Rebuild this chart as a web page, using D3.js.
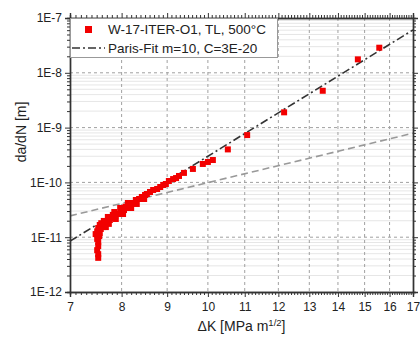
<!DOCTYPE html>
<html>
<head>
<meta charset="utf-8">
<script src="https://cdn.jsdelivr.net/npm/d3@7"></script>
<style>
  body { margin: 0; background: #fff; }
  svg { font-family: "Liberation Sans", Arial, sans-serif; }
  .axis path, .axis line { stroke: #333; }
  .axis text { fill: #222; }
</style>
</head>
<body>
<svg id="chart" width="420" height="338"></svg>
<script>
// measured crack growth rate, W-17-ITER-O1, TL, 500°C
var deltaK = [7.53, 7.53, 7.51, 7.53, 7.53, 7.51, 7.55, 7.48, 7.56, 7.51,
  7.58, 7.53, 7.62, 7.56, 7.66, 7.70, 7.64, 7.76, 7.80, 7.72,
  7.87, 7.93, 7.85, 7.99, 8.05, 7.97, 8.11, 8.17, 8.13, 8.24,
  8.30, 8.37, 8.43, 8.50, 8.54, 8.61, 8.68, 8.77, 8.84, 8.91,
  8.97, 9.04, 9.14, 9.21, 9.28, 9.40, 9.62, 9.87, 10.00, 10.13,
  7.68, 7.88, 8.03, 8.20, 8.32, 8.48, 7.59, 7.74, 7.82, 8.08,
  10.53, 11.07, 12.18, 13.46, 14.74, 15.58]
var rate = [4.2e-12, 4.9e-12, 5.8e-12, 6.9e-12, 8.2e-12, 9.3e-12, 1.05e-11, 1.14e-11, 1.19e-11, 1.28e-11,
  1.41e-11, 1.47e-11, 1.53e-11, 1.67e-11, 1.74e-11, 1.90e-11, 1.98e-11, 2.06e-11, 2.24e-11, 2.34e-11,
  2.44e-11, 2.65e-11, 2.88e-11, 2.88e-11, 3.13e-11, 3.41e-11, 3.41e-11, 3.87e-11, 4.21e-11, 4.21e-11,
  4.77e-11, 4.98e-11, 5.42e-11, 5.89e-11, 6.14e-11, 6.68e-11, 7.27e-11, 7.58e-11, 8.24e-11, 8.97e-11,
  9.35e-11, 1.06e-10, 1.15e-10, 1.20e-10, 1.31e-10, 1.49e-10, 1.76e-10, 2.17e-10, 2.36e-10, 2.56e-10,
  1.53e-11, 2.15e-11, 2.65e-11, 3.41e-11, 4.04e-11, 4.98e-11, 1.80e-11, 1.75e-11, 2.55e-11, 3.60e-11,
  4.0e-10, 7.3e-10, 1.9e-9, 4.7e-9, 1.76e-8, 2.87e-8]

// Paris fit line (m=10, C=3E-20) end points, and the grey reference line
var parisK = [7, 17]
var parisRate = [8.47e-12, 6.05e-8]
var refK = [7, 17]
var refRate = [2.45e-11, 7.9e-10]

var xTicks = [7, 8, 9, 10, 11, 12, 13, 14, 15, 16, 17]
var yTicks = [1e-12, 1e-11, 1e-10, 1e-9, 1e-8, 1e-7]
var yTickLabels = ["1E-12", "1E-11", "1E-10", "1E-9", "1E-8", "1E-7"]

var legendLabels = ["W-17-ITER-O1, TL, 500°C", "Paris-Fit m=10, C=3E-20"]

var margin = { left: 70, right: 7, top: 18, bottom: 46 }
var width = 420 - margin.left - margin.right
var height = 338 - margin.top - margin.bottom

var svg = d3.select("#chart")
var g = svg.append("g").attr("transform", "translate(" + margin.left + "," + margin.top + ")")

var x = d3.scaleLog().domain([7, 17]).range([0, width])
var y = d3.scaleLog().domain([1e-12, 1e-7]).range([height, 0])

// minor values
var xMinor = d3.range(70, 171).map(function (d) { return d / 10 }).filter(function (d) { return xTicks.indexOf(d) < 0 })
var yMinor = []
yTicks.slice(0, -1).forEach(function (t) {
  for (var i = 2; i <= 9; i++) yMinor.push(t * i)
})

// minor horizontal grid
g.append("g").selectAll("line").data(yMinor).enter().append("line")
  .attr("x1", 0).attr("x2", width)
  .attr("y1", function (d) { return y(d) }).attr("y2", function (d) { return y(d) })
  .attr("stroke", "#e0e0e0").attr("stroke-width", 0.8)

// major grid
g.append("g").selectAll("line").data(yTicks.slice(1, -1)).enter().append("line")
  .attr("x1", 0).attr("x2", width)
  .attr("y1", function (d) { return y(d) }).attr("y2", function (d) { return y(d) })
  .attr("stroke", "#a0a0a0").attr("stroke-dasharray", "3,3")
g.append("g").selectAll("line").data(xTicks.slice(1, -1)).enter().append("line")
  .attr("y1", 0).attr("y2", height)
  .attr("x1", function (d) { return x(d) }).attr("x2", function (d) { return x(d) })
  .attr("stroke", "#a0a0a0").attr("stroke-dasharray", "3,3")

// fit lines
var line = d3.line().x(function (d) { return x(d[0]) }).y(function (d) { return y(d[1]) })
g.append("path").datum(d3.zip(refK, refRate)).attr("d", line)
  .attr("fill", "none").attr("stroke", "#999").attr("stroke-width", 1.6).attr("stroke-dasharray", "7,4")
g.append("path").datum(d3.zip(parisK, parisRate)).attr("d", line)
  .attr("fill", "none").attr("stroke", "#333").attr("stroke-width", 1.6).attr("stroke-dasharray", "8,3,2,3")

// data points
var s = 6
g.selectAll(".pt").data(d3.zip(deltaK, rate)).enter().append("rect")
  .attr("class", "pt")
  .attr("x", function (d) { return x(d[0]) - s / 2 })
  .attr("y", function (d) { return y(d[1]) - s / 2 })
  .attr("width", s).attr("height", s)
  .attr("fill", "#f20000")

// axes
function noLabel() { return "" }
g.append("g").attr("class", "axis").attr("transform", "translate(0," + height + ")")
  .call(d3.axisBottom(x).tickValues(xTicks).tickFormat(d3.format("d")).tickSize(5).tickPadding(5))
g.append("g").attr("class", "axis").attr("transform", "translate(0," + height + ")")
  .call(d3.axisBottom(x).tickValues(xMinor).tickFormat(noLabel).tickSize(3))
g.append("g").attr("class", "axis")
  .call(d3.axisTop(x).tickValues(xTicks).tickFormat(noLabel).tickSize(5))
g.append("g").attr("class", "axis")
  .call(d3.axisTop(x).tickValues(xMinor).tickFormat(noLabel).tickSize(3))

g.append("g").attr("class", "axis")
  .call(d3.axisLeft(y).tickValues(yTicks).tickFormat(function (d, i) { return yTickLabels[i] }).tickSize(5).tickPadding(3))
g.append("g").attr("class", "axis")
  .call(d3.axisLeft(y).tickValues(yMinor).tickFormat(noLabel).tickSize(3))
g.append("g").attr("class", "axis").attr("transform", "translate(" + width + ",0)")
  .call(d3.axisRight(y).tickValues(yTicks).tickFormat(noLabel).tickSize(5))
g.append("g").attr("class", "axis").attr("transform", "translate(" + width + ",0)")
  .call(d3.axisRight(y).tickValues(yMinor).tickFormat(noLabel).tickSize(3))
g.selectAll(".axis path").attr("stroke-width", 1.4)
g.selectAll(".axis text").style("font-size", "12px")

// legend
var leg = g.append("g")
leg.append("rect").attr("x", 0.5).attr("y", 0.5).attr("width", 207).attr("height", 39)
  .attr("fill", "#fff").attr("stroke", "#999").attr("stroke-width", 1)
leg.append("rect").attr("x", 15).attr("y", 8).attr("width", 7).attr("height", 7).attr("fill", "#f20000")
leg.append("line").attr("x1", 2).attr("x2", 35).attr("y1", 30).attr("y2", 30)
  .attr("stroke", "#333").attr("stroke-width", 1.6).attr("stroke-dasharray", "8,3,2,3")
leg.selectAll("text").data(legendLabels).enter().append("text")
  .attr("x", 38).attr("y", function (d, i) { return 16 + i * 19 })
  .attr("font-size", "13.5px").attr("fill", "#222")
  .text(function (d) { return d })

// axis titles
var xt = svg.append("text").attr("x", margin.left + width / 2).attr("y", 331)
  .attr("text-anchor", "middle").attr("font-size", "14px").attr("fill", "#222")
xt.append("tspan").text("ΔK [MPa m")
xt.append("tspan").attr("font-size", "9.5px").attr("dy", "-5").text("1/2")
xt.append("tspan").attr("dy", "5").text("]")

svg.append("text").attr("transform", "translate(26," + 132 + ") rotate(-90)")
  .attr("text-anchor", "middle").attr("font-size", "14px").attr("fill", "#222")
  .text("da/dN [m]")
</script>
</body>
</html>
